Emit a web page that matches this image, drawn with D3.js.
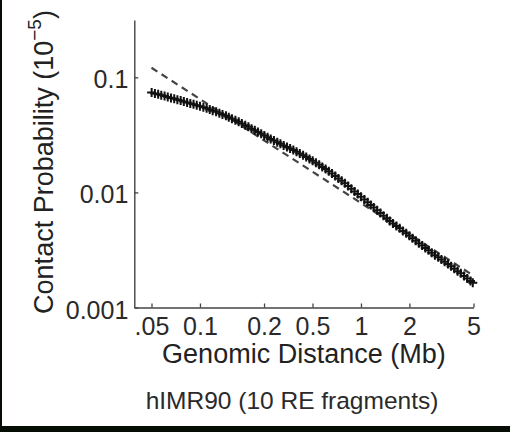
<!DOCTYPE html>
<html><head><meta charset="utf-8">
<script src="https://cdn.jsdelivr.net/npm/d3@7"></script>
<style>html,body{margin:0;padding:0;background:#000;} svg{display:block;}</style>
</head><body>
<svg id="c" width="510" height="432"></svg>
<script>
// Genomic distance (Mb) of each binned point
const distances = [
  0.0501, 0.0525, 0.0550, 0.0575, 0.0603, 0.0631, 0.0661, 0.0692, 0.0724, 0.0759,
  0.0794, 0.0832, 0.0871, 0.0912, 0.0955,
  0.100, 0.105, 0.110, 0.115, 0.120, 0.126, 0.132, 0.138, 0.145, 0.151,
  0.158, 0.166, 0.174, 0.182, 0.191, 0.200, 0.209, 0.219, 0.229, 0.240,
  0.251, 0.263, 0.275, 0.288, 0.302, 0.316, 0.331, 0.347, 0.363, 0.380,
  0.398, 0.417, 0.437, 0.457, 0.479, 0.501, 0.525, 0.550, 0.575, 0.603,
  0.631, 0.661, 0.692, 0.724, 0.759, 0.794, 0.832, 0.871, 0.912, 0.955,
  1.00, 1.05, 1.10, 1.15, 1.20, 1.26, 1.32, 1.38, 1.45, 1.51,
  1.58, 1.66, 1.74, 1.82, 1.91, 2.00, 2.09, 2.19, 2.29, 2.40,
  2.51, 2.63, 2.75, 2.88, 3.02, 3.16, 3.31, 3.47, 3.63, 3.80,
  3.98, 4.17, 4.37, 4.57, 4.79, 4.95
];
// Contact probability (x 10^-5)
const probabilities = [
  0.0737, 0.0724, 0.0711, 0.0698, 0.0686, 0.0673, 0.0661, 0.0650, 0.0638, 0.0627,
  0.0615, 0.0604, 0.0593, 0.0583, 0.0571,
  0.0560, 0.0548, 0.0537, 0.0526, 0.0513, 0.0501, 0.0488, 0.0476, 0.0464, 0.0450,
  0.0436, 0.0423, 0.0410, 0.0397, 0.0384, 0.0371, 0.0358, 0.0346, 0.0335, 0.0323,
  0.0312, 0.0302, 0.0291, 0.0282, 0.0273, 0.0265, 0.0256, 0.0248, 0.0240, 0.0233,
  0.0225, 0.0218, 0.0210, 0.0203, 0.0195, 0.0188, 0.0181, 0.0174, 0.0166, 0.0160,
  0.0153, 0.0146, 0.0139, 0.0132, 0.0126, 0.0120, 0.01135, 0.01076, 0.01020, 0.00967,
  0.00916, 0.00868, 0.00822, 0.00779, 0.00738, 0.00700, 0.00663, 0.00628, 0.00595, 0.00564,
  0.00537, 0.00511, 0.00487, 0.00463, 0.00441, 0.00420, 0.00400, 0.00380, 0.00362, 0.00345,
  0.00329, 0.00314, 0.00299, 0.00285, 0.00273, 0.00261, 0.00250, 0.00239, 0.00228, 0.00217,
  0.00207, 0.00198, 0.00188, 0.00179, 0.00170, 0.00164
];
// Power-law fit (dashed line) endpoints
const fitDistances = [0.05, 5];
const fitProbabilities = [0.121, 0.00189];

const xTickValues = [0.05, 0.1, 0.25, 0.5, 1, 2, 5];
const xTickLabels = [".05", "0.1", "0.2", "0.5", "1", "2", "5"];
const yTickValues = [0.001, 0.01, 0.1];
const yTickLabels = ["0.001", "0.01", "0.1"];

const xLabel = "Genomic Distance (Mb)";
const yLabel = "Contact Probability (10";
const yLabelSup = "\u22125";
const caption = "hIMR90 (10 RE fragments)";

const FONT = "'Liberation Sans', Arial, Helvetica, sans-serif";
const svg = d3.select("#c");

// panel
svg.append("rect").attr("x", 0).attr("y", 0).attr("width", 510).attr("height", 432).attr("fill", "#050d05");
svg.append("rect").attr("x", 2).attr("y", 0).attr("width", 508).attr("height", 426).attr("fill", "#ffffff");

const x = d3.scaleLog().domain([0.0391, 5]).range([134.3, 473.5]);
const y = d3.scaleLog().domain([0.001, 0.3145]).range([307.5, 20]);

const axisColor = "#444";
const textColor = "#2a2a2a";

// x axis
const gx = svg.append("g").attr("transform", `translate(0,${y.range()[0]})`)
  .call(d3.axisBottom(x).tickValues(xTickValues).tickFormat((d, i) => xTickLabels[i])
    .tickSize(-4).tickSizeOuter(0).tickPadding(10));
gx.select(".domain").attr("stroke", axisColor).attr("stroke-width", 1.4);
gx.selectAll(".tick line").attr("stroke", axisColor).attr("stroke-width", 1.3);
gx.selectAll(".tick text").attr("fill", textColor).attr("font-size", 25).attr("font-family", FONT);

// y axis
const gy = svg.append("g").attr("transform", `translate(${x.range()[0]},0)`)
  .call(d3.axisLeft(y).tickValues(yTickValues).tickFormat((d, i) => yTickLabels[i])
    .tickSize(-4).tickSizeOuter(0).tickPadding(6));
gy.select(".domain").attr("stroke", axisColor).attr("stroke-width", 1.4);
gy.selectAll(".tick line").attr("stroke", axisColor).attr("stroke-width", 1.3);
gy.selectAll(".tick text").attr("fill", textColor).attr("font-size", 25).attr("font-family", FONT)
  .attr("dy", "0.42em");

// fit line
const fit = fitDistances.map((d, i) => ({ d, p: fitProbabilities[i] }));
svg.append("path").datum(fit)
  .attr("d", d3.line().x(v => x(v.d)).y(v => y(v.p)))
  .attr("fill", "none").attr("stroke", "#444").attr("stroke-width", 2.2)
  .attr("stroke-dasharray", "7,5");

// data markers (+)
const pts = distances.map((d, i) => ({ d, p: probabilities[i] }));
svg.append("g").selectAll("path").data(pts).join("path")
  .attr("transform", v => `translate(${x(v.d)},${y(v.p)})`)
  .attr("d", "M-4.5,0H4.5M0,-4.5V4.5")
  .attr("fill", "none").attr("stroke", "#111").attr("stroke-width", 2);

// axis labels
svg.append("text").attr("x", (x.range()[0] + x.range()[1]) / 2).attr("y", 363)
  .attr("text-anchor", "middle").attr("font-size", 27).attr("font-family", FONT)
  .attr("fill", "#222").text(xLabel);

const yl = svg.append("text").attr("transform", "translate(53,162) rotate(-90)")
  .attr("text-anchor", "middle").attr("font-size", 27).attr("font-family", FONT).attr("fill", "#222");
yl.append("tspan").text(yLabel);
yl.append("tspan").attr("font-size", 19).attr("dy", -12).text(yLabelSup);
yl.append("tspan").attr("dy", 12).text(")");

svg.append("text").attr("x", 292).attr("y", 409)
  .attr("text-anchor", "middle").attr("font-size", 24.5).attr("font-family", FONT)
  .attr("fill", textColor).text(caption);
</script>
</body></html>
